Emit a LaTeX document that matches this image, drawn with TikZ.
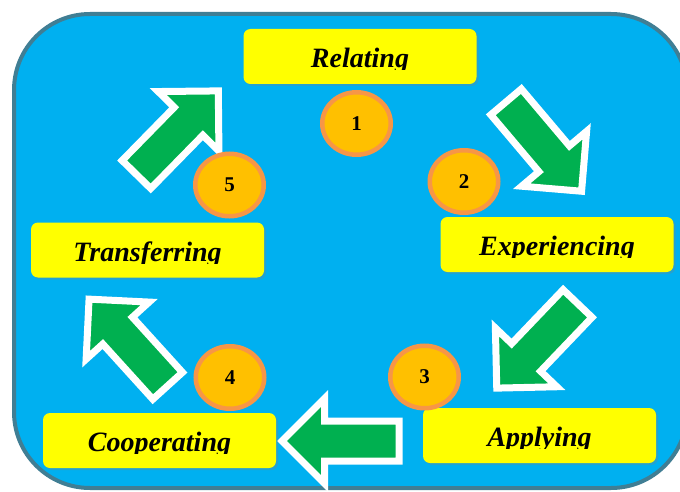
\documentclass[tikz,border=0pt]{standalone}
\usepackage{fontspec}
\setmainfont{Liberation Serif}
\usetikzlibrary{shapes.geometric,shapes.arrows,shadows}
\definecolor{panelblue}{RGB}{0,176,240}
\definecolor{panelrim}{RGB}{64,126,148}
\definecolor{stagefill}{RGB}{255,255,0}
\definecolor{badgefill}{RGB}{255,192,0}
\definecolor{badgerim}{RGB}{247,150,70}
\definecolor{flowgreen}{RGB}{0,176,80}
\tikzset{
  panel/.style={draw=panelrim, line width=4pt, fill=panelblue, rounded corners=76pt, minimum width=673pt, minimum height=474pt},
  stage/.style={fill=stagefill, rounded corners=7pt, minimum width=233pt, minimum height=55pt, inner sep=0pt, drop shadow={opacity=.3, shadow xshift=2pt, shadow yshift=-2pt}},
  stagetext/.style={font=\fontsize{28}{30}\selectfont\bfseries\itshape, inner sep=0pt, anchor=base},
  badge/.style={ellipse, draw=badgerim, line width=4.5pt, fill=badgefill, minimum width=68.5pt, minimum height=62.5pt, inner sep=0pt, font=\fontsize{21}{22}\selectfont\bfseries},
  flow/.style={single arrow, draw=white, line width=7pt, fill=flowgreen, single arrow head extend=22.5pt, single arrow tip angle=90, minimum height=117pt, inner xsep=0pt, inner ysep=16.5pt, anchor=tail, drop shadow={opacity=.25, shadow xshift=1.5pt, shadow yshift=-1.5pt}}
}
% caption of a stage box, cut off just under its baseline
\newcommand{\cutlabel}[2]{%
  \begin{scope}
    \clip (#1.north west) rectangle ([yshift=-41pt]#1.north east);
    \node[stagetext] (#1-text) at ([yshift=-39pt]#1.north) {#2};
  \end{scope}}

\begin{document}
\begin{tikzpicture}[x=1pt,y=-1pt]
  \fill[white] (0,0) rectangle (680,492);
  \clip (0,0) rectangle (680,492);
  \node[panel] (panel) at (350.5,251) {};

  % the cycle arrows, placed by their tails
  \node[flow,rotate=45.6] (arr1) at (134,177) {};
  \node[flow,rotate=-49.8] (arr2) at (503.8,99.2) {};
  \node[flow,rotate=-133.7] (arr3) at (580,301) {};
  \node[flow,rotate=180] (arr4) at (402.5,441) {};
  \node[flow,rotate=132.2] (arr5) at (170,388.4) {};

  % stages
  \node[stage] (relating) at (360,56.5) {};
  \node[stage] (experiencing) at (557,244.5) {};
  \node[stage] (applying) at (539.5,435.5) {};
  \node[stage] (cooperating) at (159.5,440.5) {};
  \node[stage] (transferring) at (147.5,250) {};
  \cutlabel{relating}{Relating}
  \cutlabel{experiencing}{Experiencing}
  \cutlabel{applying}{Applying}
  \cutlabel{cooperating}{Cooperating}
  \cutlabel{transferring}{Transferring}

  % step numbers
  \node[badge] (n1) at (356.5,123.5) {1};
  \node[badge] (n2) at (464,181.5) {2};
  \node[badge] (n3) at (424.5,377) {3};
  \node[badge] (n4) at (230,377.5) {4};
  \node[badge] (n5) at (229.5,185) {5};
\end{tikzpicture}
\end{document}
